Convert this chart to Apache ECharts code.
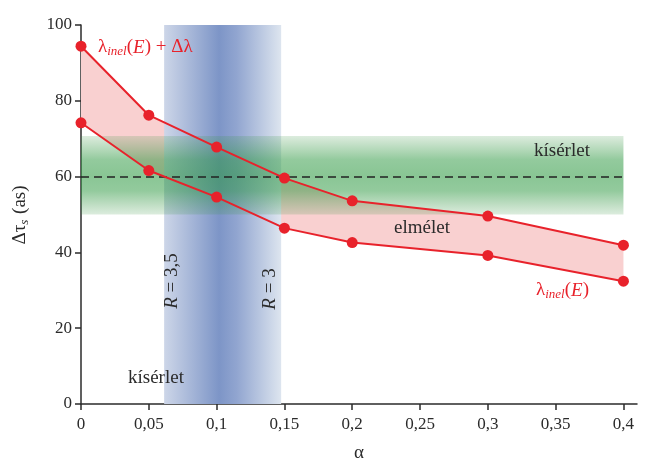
<!DOCTYPE html>
<html>
<head>
<meta charset="utf-8">
<script src="https://cdn.jsdelivr.net/npm/echarts@6/dist/echarts.min.js"></script>
<style>
  html, body { margin: 0; padding: 0; background: #fff; }
  #chart { width: 653px; height: 459px; }
</style>
</head>
<body>
<div id="chart"></div>
<script>
/* Δτs vs α — elmélet / kísérlet */
const alphas = [0, 0.05, 0.1, 0.15, 0.2, 0.3, 0.4];
const upperVals = [94.4, 76.2, 67.8, 59.6, 53.6, 49.6, 41.9];   // λinel(E) + Δλ
const lowerVals = [74.2, 61.6, 54.6, 46.4, 42.6, 39.2, 32.4];   // λinel(E)
const xTicks = [0, 0.05, 0.1, 0.15, 0.2, 0.25, 0.3, 0.35, 0.4];
const expValue = 60;            // kísérlet, dashed
const expBand = [50, 70.7];     // kísérlet, green band
const rBand = [0.0613, 0.1476]; // R = 3,5 ... R = 3

const RED = '#e8222b';
const FONT = '"Liberation Serif", "DejaVu Serif", serif';
const INK = '#2b2b2b';

const chart = echarts.init(document.getElementById('chart'));
const pair = vals => alphas.map((a, i) => [a, vals[i]]);
const lambdaRich = {
  n: { fontFamily: FONT, fontSize: 19, fill: RED },
  i: { fontFamily: FONT, fontSize: 19, fontStyle: 'italic', fill: RED },
  s: { fontFamily: FONT, fontSize: 13, fontStyle: 'italic', fill: RED, padding: [9, 0, 0, 0] }
};

chart.setOption({
  backgroundColor: '#fff',
  animation: false,
  grid: { left: 81, right: 16, top: 25, bottom: 55, containLabel: false, outerBoundsMode: 'none' },
  xAxis: {
    type: 'value', min: 0, max: 0.41,
    name: 'α', nameLocation: 'middle', nameGap: 40,
    nameTextStyle: { color: INK, fontFamily: FONT, fontSize: 19 },
    axisLine: { show: true, onZero: false, lineStyle: { color: INK, width: 1.5 } },
    axisTick: { show: true, length: 6, customValues: xTicks, lineStyle: { color: INK, width: 1.5 } },
    axisLabel: {
      color: INK, fontFamily: FONT, fontSize: 17, margin: 12,
      customValues: xTicks,
      formatter: v => String(v).replace('.', ',')
    },
    splitLine: { show: false }
  },
  yAxis: {
    type: 'value', min: 0, max: 100, interval: 20,
    axisLine: { show: true, lineStyle: { color: INK, width: 1.5 } },
    axisTick: { show: true, length: 6, lineStyle: { color: INK, width: 1.5 } },
    axisLabel: { color: INK, fontFamily: FONT, fontSize: 17, margin: 9 },
    splitLine: { show: false }
  },
  graphic: [
    {
      type: 'text', left: 98, top: 38, z: 100,
      style: { text: '{n|λ}{s|inel}{n|(}{i|E}{n|) + Δλ}', fill: RED, rich: lambdaRich }
    },
    {
      type: 'text', left: 536, top: 281, z: 100,
      style: { text: '{n|λ}{s|inel}{n|(}{i|E}{n|)}', fill: RED, rich: lambdaRich }
    },
    {
      type: 'text', left: 534, top: 142, z: 100,
      style: { text: 'kísérlet', fontFamily: FONT, fontSize: 19, fill: INK }
    },
    {
      type: 'text', left: 394, top: 219, z: 100,
      style: { text: 'elmélet', fontFamily: FONT, fontSize: 19, fill: INK }
    },
    {
      type: 'text', left: 128, top: 369, z: 100,
      style: { text: 'kísérlet', fontFamily: FONT, fontSize: 19, fill: INK }
    },
    {
      type: 'text', x: 172, y: 281, rotation: Math.PI / 2, z: 100,
      style: {
        text: '{i|R} = 3,5', align: 'center', verticalAlign: 'middle',
        fontFamily: FONT, fontSize: 19, fill: INK,
        rich: { i: { fontFamily: FONT, fontSize: 19, fontStyle: 'italic', fill: INK } }
      }
    },
    {
      type: 'text', x: 270, y: 289, rotation: Math.PI / 2, z: 100,
      style: {
        text: '{i|R} = 3', align: 'center', verticalAlign: 'middle',
        fontFamily: FONT, fontSize: 19, fill: INK,
        rich: { i: { fontFamily: FONT, fontSize: 19, fontStyle: 'italic', fill: INK } }
      }
    },
    {
      type: 'text', x: 20, y: 215, rotation: Math.PI / 2, z: 100,
      style: {
        text: '{n|Δτ}{s|s}{n| (as)}', align: 'center', verticalAlign: 'middle',
        fill: INK,
        rich: {
          n: { fontFamily: FONT, fontSize: 19, fill: INK },
          s: { fontFamily: FONT, fontSize: 13, fontStyle: 'italic', fill: INK, padding: [9, 1, 0, 0] }
        }
      }
    }
  ],
  series: [
    {
      // pink band between the two curves
      type: 'custom', z: 1, silent: true,
      data: [0],
      renderItem: (params, api) => {
        const pts = alphas.map((a, i) => api.coord([a, upperVals[i]]))
          .concat(alphas.map((a, i) => api.coord([a, lowerVals[i]])).reverse());
        return { type: 'polygon', shape: { points: pts }, style: { fill: '#f9d0d0' } };
      }
    },
    {
      type: 'line', z: 2, data: [], silent: true,
      markArea: {
        silent: true, z: 2,
        itemStyle: {
          color: new echarts.graphic.LinearGradient(0, 0, 1, 0, [
            { offset: 0, color: '#cdd6e8' },
            { offset: 0.47, color: '#7d95c7' },
            { offset: 0.62, color: '#91a5d0' },
            { offset: 1, color: '#dde5ef' }
          ])
        },
        data: [[{ xAxis: rBand[0], yAxis: 0 }, { xAxis: rBand[1], yAxis: 100 }]]
      }
    },
    {
      type: 'line', z: 3, data: [], silent: true,
      markArea: {
        silent: true, z: 3,
        itemStyle: {
          color: new echarts.graphic.LinearGradient(0, 0, 0, 1, [
            { offset: 0, color: 'rgba(60,150,70,0.18)' },
            { offset: 0.3, color: 'rgba(40,150,60,0.5)' },
            { offset: 0.5, color: 'rgba(40,150,60,0.55)' },
            { offset: 0.7, color: 'rgba(40,150,60,0.5)' },
            { offset: 1, color: 'rgba(60,150,70,0.18)' }
          ])
        },
        data: [[{ xAxis: alphas[0], yAxis: expBand[0] }, { xAxis: alphas[alphas.length - 1], yAxis: expBand[1] }]]
      }
    },
    {
      type: 'line', z: 4, data: [], silent: true,
      markLine: {
        silent: true, z: 4, symbol: 'none', label: { show: false },
        lineStyle: { color: '#222', type: [8, 5], width: 1.5 },
        data: [[{ coord: [alphas[0], expValue] }, { coord: [alphas[alphas.length - 1], expValue] }]]
      }
    },
    {
      name: 'λinel(E) + Δλ', type: 'line', z: 10, data: pair(upperVals),
      symbol: 'circle', symbolSize: 11, showSymbol: true,
      lineStyle: { color: RED, width: 2 }, itemStyle: { color: RED }
    },
    {
      name: 'λinel(E)', type: 'line', z: 10, data: pair(lowerVals),
      symbol: 'circle', symbolSize: 11, showSymbol: true,
      lineStyle: { color: RED, width: 2 }, itemStyle: { color: RED }
    }
  ]
});
</script>
</body>
</html>
